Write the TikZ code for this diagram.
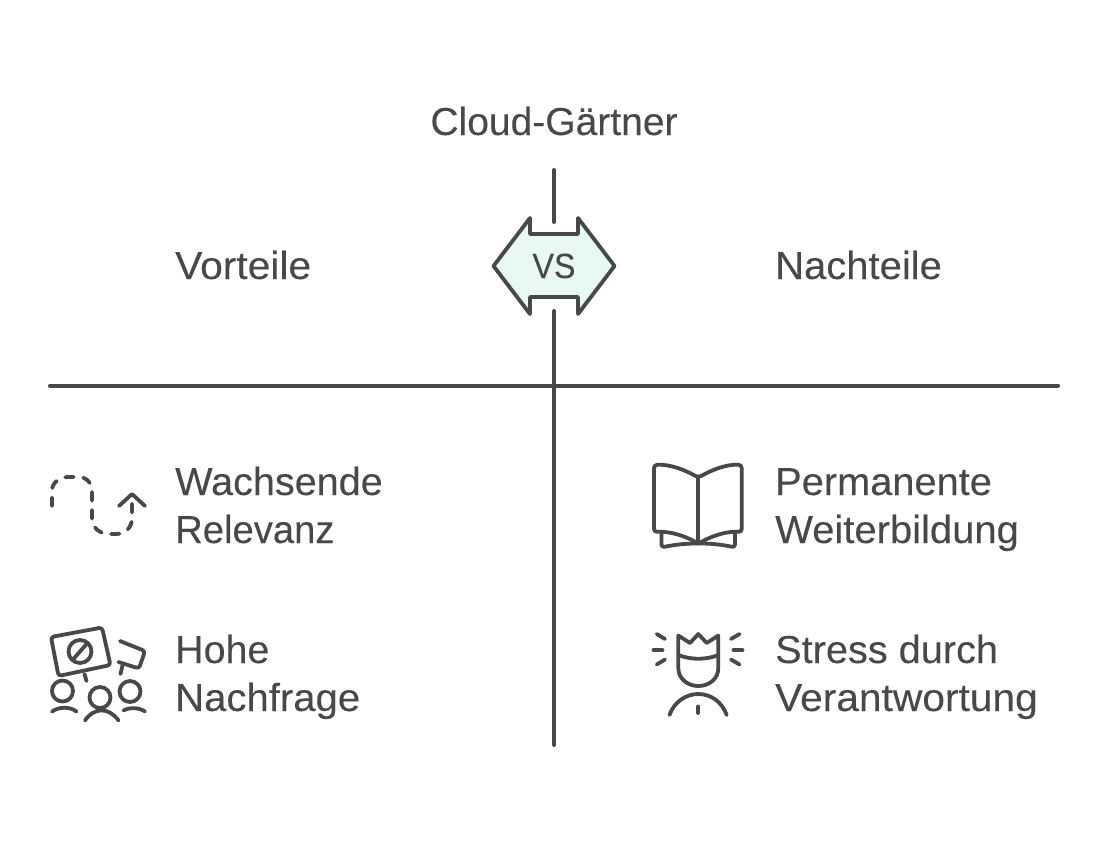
\documentclass[tikz,border=0pt]{standalone}
\usepackage{fontspec}
\setmainfont{Liberation Sans}[FakeBold=0.12]
\definecolor{ink}{HTML}{484848}
\definecolor{mint}{HTML}{E8F9F2}
\tikzset{
  every picture/.style={x=1pt,y=-1pt},
  rule/.style={draw=ink,line width=4pt,line cap=round},
  icon/.style={draw=ink,line width=3.8pt,line cap=round,line join=round},
  dashicon/.style={icon,dash pattern=on 8.5pt off 9.5pt},
  label/.style={anchor=base west,inner sep=0pt,text=ink,font=\fontsize{39}{39}\selectfont},
  title/.style={anchor=base,inner sep=0pt,text=ink,font=\fontsize{39}{39}\selectfont},
}
\begin{document}
\begin{tikzpicture}
\useasboundingbox (0,0) rectangle (1109,844);
% rules
\coordinate (topA) at (554,170);
\coordinate (topB) at (554,222);
\coordinate (lowA) at (554,311);
\coordinate (lowB) at (554,745);
\coordinate (hL) at (50,385.5);
\coordinate (hR) at (1058,385.5);
\draw[rule] (topA) -- (topB);
\draw[rule] (lowA) -- (lowB);
\draw[rule] (hL) -- (hR);
% VS badge
\draw[draw=ink,fill=mint,line width=3.8pt,line join=round]
  (493.5,266) -- (530,218) -- (530,234) -- (578,234) -- (578,218) -- (614.5,266)
  -- (578,314) -- (578,297) -- (530,297) -- (530,314) -- cycle;
\node[anchor=base,inner sep=0pt,text=ink,font=\fontsize{35}{35}\selectfont,xscale=.92,yscale=1.0] (vs) at (554,278) {VS};
% headings
\node[title] (cloud) at (554,135) {Cloud-Gärtner};
\node[label,xscale=1.045] (vor) at (175,279) {Vorteile};
\node[label,xscale=1.025] (nach) at (775,279) {Nachteile};
% labels
\node[label,xscale=1.015] (w1) at (175,495) {Wachsende};
\node[label,xscale=.98] (w2) at (175,543) {Relevanz};
\node[label,xscale=1.01] (h1) at (175,663) {Hohe};
\node[label,xscale=1.028] (h2) at (175,711) {Nachfrage};
\node[label,xscale=1.02] (p1) at (775,495) {Permanente};
\node[label,xscale=1.025] (p2) at (775,543) {Weiterbildung};
\node[label,xscale=1.018] (s1) at (775,663) {Stress durch};
\node[label,xscale=1.044] (s2) at (775,711) {Verantwortung};
% growth icon
\draw[dashicon] (52,506) -- (52,491) .. controls (52,482) and (60,477) .. (68,477)
  -- (78,477) .. controls (87,477) and (92,483) .. (92,492)
  -- (92,518) .. controls (92,528) and (100,534) .. (109,534)
  -- (116,534) .. controls (126,534) and (132,527) .. (132,518) -- (132,496);
\draw[icon] (119,506) -- (132,494) -- (145,506);
% protest icon
\draw[icon,rounded corners=3pt] (51,637) -- (102,627.5) -- (110.5,665) -- (58.5,676) -- cycle;
\draw[icon] (80,651.5) circle (11.5);
\draw[icon] (73,659.5) -- (87,643.5);
\draw[icon] (84.5,674) -- (86.5,681);
\draw[icon,rounded corners=3pt] (120,641) -- (145,651) -- (139,668.5) -- (118.5,662);
\draw[icon] (122.5,665.5) -- (120.5,674);
\draw[icon] (62.5,691) circle (10.5);
\draw[icon] (100,697.5) circle (10.5);
\draw[icon] (130,691.5) circle (10.5);
\draw[icon] (52,711.5) .. controls (59,706.5) and (70,706.5) .. (76.5,711.5);
\draw[icon] (85,720.5) .. controls (94,707) and (109,707) .. (118.5,720.5);
\draw[icon] (123.5,710.5) .. controls (130,707) and (139,707.5) .. (145,711.5);
% book icon
\draw[icon,rounded corners=3pt] (654,465) .. controls (670,464) and (685,470) .. (698.3,477.5)
  .. controls (712,470) and (726,464) .. (741.7,465) -- (741.7,532)
  .. controls (726,531) and (712,536) .. (698.3,543.5)
  .. controls (685,536) and (670,531) .. (654,532) -- cycle;
\draw[icon] (698.3,477.5) -- (698.3,543.5);
\draw[icon,rounded corners=3pt] (661.5,533.5) -- (661.5,547.5) .. controls (675,544.5) and (687,543.5) .. (698.3,543.5)
  .. controls (710,543.5) and (722,544.5) .. (735,547.5) -- (735,533.5);
% stress icon
\draw[icon] (678.3,635.5) -- (690,643) -- (698.3,634) -- (706.7,643) -- (718.3,635.5) -- (718.3,668)
  .. controls (718.3,679) and (709,686) .. (698.3,686)
  .. controls (688,686) and (678.3,679) .. (678.3,668) -- cycle;
\draw[icon] (678.3,655) .. controls (691,660) and (706,660) .. (718.3,655);
\draw[icon] (669.5,715) .. controls (674,702) and (686,694) .. (698.3,694)
  .. controls (711,694) and (722,702) .. (726.7,715);
\draw[icon] (698.3,706.5) -- (698.3,713);
\draw[icon] (656.7,634) -- (665,639);
\draw[icon] (653.5,650.3) -- (662.5,650.3);
\draw[icon] (656.7,664.5) -- (665,659.5);
\draw[icon] (739.5,634) -- (731,639);
\draw[icon] (742.5,650.3) -- (733.5,650.3);
\draw[icon] (739.5,664.5) -- (731,659.5);
\end{tikzpicture}
\end{document}
